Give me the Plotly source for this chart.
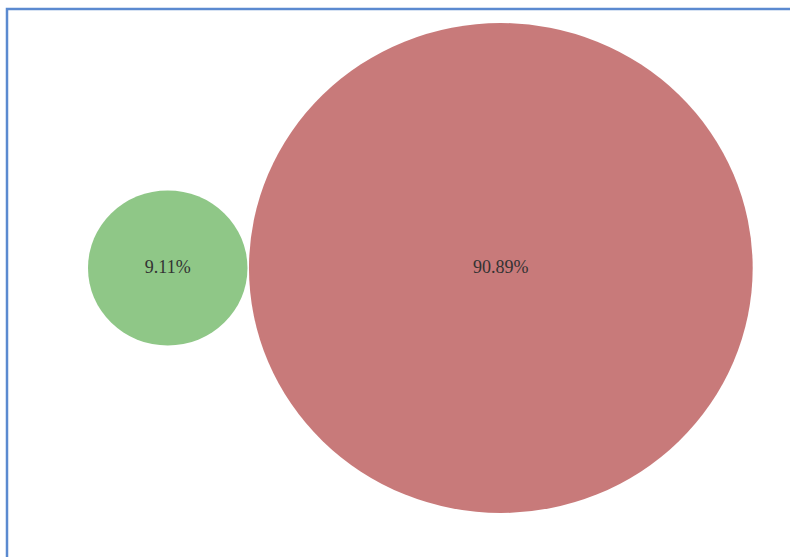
import math
import plotly.graph_objects as go

labels = ["9.11%", "90.89%"]
values = [9.11, 90.89]
colors = ["#8fc787", "#c87a7a"]

W, H = 790, 557
scale_y = 245 / math.sqrt(90.89)   # px per sqrt-unit vertically
scale_x = scale_y * 1.028          # slight horizontal stretch in reference
left, gap, cy = 88, 1.5, 268

fig = go.Figure()
shapes = []
x_cursor = left
cxs = []
for v, c in zip(values, colors):
    rx = scale_x * math.sqrt(v)
    ry = scale_y * math.sqrt(v)
    cx = x_cursor + rx
    cxs.append(cx)
    shapes.append(dict(type="circle", xref="x", yref="y", x0=cx - rx, x1=cx + rx,
                       y0=cy - ry, y1=cy + ry, fillcolor=c, line=dict(width=0), layer="below"))
    x_cursor = cx + rx + gap

# border frame (paper coords)
shapes.append(dict(type="rect", xref="paper", yref="paper", x0=7 / W, x1=(W + 20) / W,
                   y0=-20 / H, y1=1 - 9 / H,
                   line=dict(color="#5b8ad0", width=2.5), fillcolor="rgba(0,0,0,0)"))

fig.add_trace(go.Scatter(x=cxs, y=[cy] * len(cxs), mode="text", text=labels,
                         textfont=dict(family="Liberation Serif, serif", size=18, color="#333333"),
                         hoverinfo="skip", showlegend=False))

fig.update_layout(width=W, height=H, margin=dict(l=0, r=0, t=0, b=0),
                  paper_bgcolor="white", plot_bgcolor="white", shapes=shapes,
                  xaxis=dict(range=[0, W], visible=False),
                  yaxis=dict(range=[H, 0], visible=False))
fig.write_html("out.html", config={"displayModeBar": False},
               post_script="document.body.style.margin='0';document.documentElement.style.overflow='hidden';")
